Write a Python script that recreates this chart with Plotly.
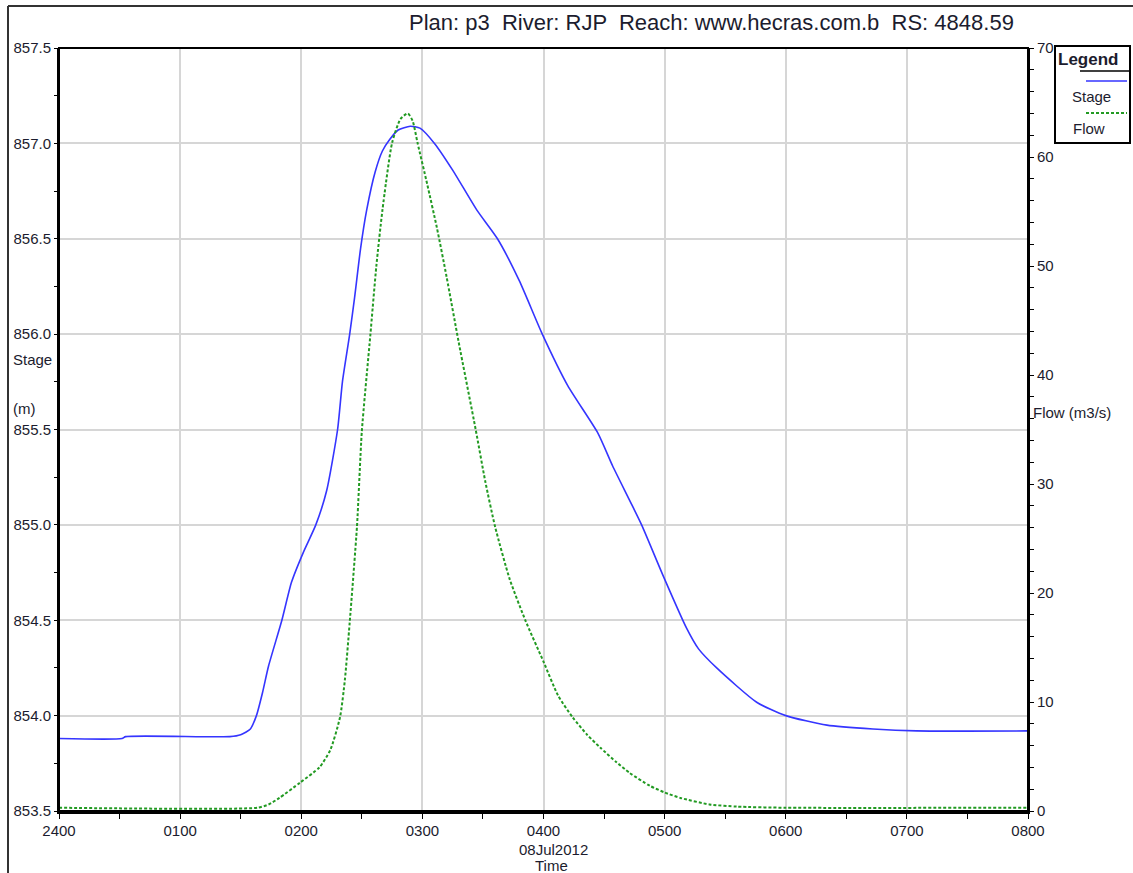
import plotly.graph_objects as go

# Hydrograph at RS 4848.59: time in hours after 2400 on 07Jul2012
stage_hours = [0.00, 0.52, 0.55, 1.41, 1.50, 1.58, 1.63, 1.68, 1.73, 1.84, 1.92, 2.02,
               2.12, 2.21, 2.30, 2.34, 2.40, 2.44, 2.49, 2.54, 2.61, 2.67, 2.73, 2.80,
               2.90, 2.98, 3.10, 3.25, 3.45, 3.62, 3.80, 3.99, 4.20, 4.45, 4.57, 4.71,
               4.81, 4.99, 5.18, 5.28, 5.43, 5.76, 6.00, 6.34, 6.72, 7.08, 8.00]
stage_m = [853.88, 853.88, 853.89, 853.89, 853.90, 853.93, 854.00, 854.12, 854.26, 854.50,
           854.70, 854.86, 855.00, 855.18, 855.50, 855.75, 856.00, 856.19, 856.45, 856.65,
           856.85, 856.96, 857.02, 857.07, 857.09, 857.08, 857.00, 856.86, 856.65, 856.50,
           856.28, 856.00, 855.73, 855.48, 855.31, 855.13, 855.00, 854.73, 854.46, 854.35,
           854.25, 854.07, 854.00, 853.95, 853.93, 853.92, 853.92]

flow_hours = [0.00, 1.64, 1.73, 1.82, 1.99, 2.15, 2.24, 2.32, 2.36, 2.40, 2.46, 2.50,
              2.57, 2.62, 2.67, 2.75, 2.82, 2.88, 2.92, 2.96, 3.04, 3.12, 3.20, 3.30,
              3.44, 3.52, 3.60, 3.72, 3.85, 4.00, 4.12, 4.24, 4.36, 4.47, 4.60, 4.71,
              4.88, 5.00, 5.13, 5.37, 5.60, 6.00, 8.00]
flow_cms = [0.3, 0.3, 0.6, 1.2, 2.6, 4.0, 5.6, 8.6, 12.0, 17.3, 26.1, 34.8,
            43.6, 50.0, 55.1, 61.3, 63.5, 64.0, 63.3, 61.3, 57.5, 53.5, 49.0, 43.0,
            35.0, 30.2, 26.1, 21.3, 17.5, 13.7, 10.6, 8.6, 7.0, 5.8, 4.5, 3.5,
            2.3, 1.7, 1.2, 0.6, 0.4, 0.3, 0.3]

time_ticks = [0, 1, 2, 3, 4, 5, 6, 7, 8]
time_labels = ["2400", "0100", "0200", "0300", "0400", "0500", "0600", "0700", "0800"]

W, H = 1133, 873
ML, MR, MT, MB = 59, 105, 48, 62
PW, PH = W - ML - MR, H - MT - MB


def px(x):
    return (x - ML) / PW


def py(y):
    return (H - MB - y) / PH


FONT = "Liberation Sans, Arial, sans-serif"
TXT = "#1c1c2e"
STAGE_C = "#3535ff"
FLOW_C = "#229a22"

fig = go.Figure()
fig.add_trace(go.Scatter(x=stage_hours, y=stage_m, mode="lines", name="Stage",
                         line=dict(color=STAGE_C, width=1.6, shape="spline", smoothing=0.6),
                         yaxis="y"))
fig.add_trace(go.Scatter(x=flow_hours, y=flow_cms, mode="lines", name="Flow",
                         line=dict(color=FLOW_C, width=2, dash="3px,2px", shape="spline", smoothing=0.6),
                         yaxis="y2"))

fig.update_layout(
    width=W, height=H,
    margin=dict(l=ML, r=MR, t=MT, b=MB, pad=0),
    paper_bgcolor="white", plot_bgcolor="white",
    showlegend=False,
    font=dict(family=FONT, size=15, color=TXT),
    xaxis=dict(range=[0, 8], tickvals=time_ticks, ticktext=time_labels,
               showgrid=True, gridcolor="#d6d6d6", gridwidth=2, zeroline=False,
               showline=True, linecolor="black", linewidth=3,
               ticks="outside", ticklen=4, tickwidth=1, tickcolor="black",
               minor=dict(dtick=0.5, ticks="outside", ticklen=5, tickcolor="black", showgrid=False)),
    yaxis=dict(range=[853.5, 857.5], dtick=0.5, tick0=853.5, tickformat=".1f",
               showgrid=True, gridcolor="#d6d6d6", gridwidth=2, zeroline=False,
               showline=True, linecolor="black", linewidth=2,
               ticks="outside", ticklen=3, tickcolor="black",
               minor=dict(dtick=0.25, ticks="outside", ticklen=3, tickcolor="black", showgrid=False)),
    yaxis2=dict(range=[0, 70], dtick=10, overlaying="y", side="right",
                showgrid=False, zeroline=False,
                showline=True, linecolor="black", linewidth=2,
                ticks="outside", ticklen=4, tickcolor="black",
                minor=dict(dtick=2, ticks="outside", ticklen=4, tickcolor="black", showgrid=False)),
)

shapes = [
    # plot area frame
    dict(type="rect", xref="paper", yref="paper", x0=0, x1=1, y0=0, y1=1,
         line=dict(color="black", width=2)),
    # outer window frame (left and top edges)
    dict(type="line", xref="paper", yref="paper", x0=px(8), x1=px(8), y0=py(6), y1=py(H + 5),
         line=dict(color="#333333", width=2)),
    dict(type="line", xref="paper", yref="paper", x0=px(8), x1=px(W + 5), y0=py(6), y1=py(6),
         line=dict(color="#333333", width=2)),
    # legend box
    dict(type="rect", xref="paper", yref="paper", x0=px(1055), x1=px(1130), y0=py(143), y1=py(46),
         line=dict(color="black", width=2), fillcolor="white"),
    dict(type="line", xref="paper", yref="paper", x0=px(1080), x1=px(1130), y0=py(71), y1=py(71),
         line=dict(color="black", width=1.5)),
    dict(type="line", xref="paper", yref="paper", x0=px(1086), x1=px(1127), y0=py(81), y1=py(81),
         line=dict(color=STAGE_C, width=1.6)),
    dict(type="line", xref="paper", yref="paper", x0=px(1086), x1=px(1127), y0=py(113), y1=py(113),
         line=dict(color=FLOW_C, width=2, dash="3px,2px")),
]
fig.update_layout(shapes=shapes)


def note(text, x, y, xanchor="left", size=15, **kw):
    fig.add_annotation(text=text, x=px(x), y=py(y), xref="paper", yref="paper",
                       xanchor=xanchor, yanchor="middle", showarrow=False,
                       font=dict(family=FONT, size=size, color=TXT), **kw)


note("Plan: p3  River: RJP  Reach: www.hecras.com.b  RS: 4848.59", 1016, 22, xanchor="right", size=22)
note("Stage", 11, 359)
note("(m)", 11, 408)
note("Flow (m3/s)", 1031, 412)
note("08Jul2012", 553, 849, xanchor="center")
note("Time", 551, 865, xanchor="center")
note("<b>Legend</b>", 1056, 59, size=17)
note("Stage", 1070, 96)
note("Flow", 1071, 128)

fig.write_html("out.html")
